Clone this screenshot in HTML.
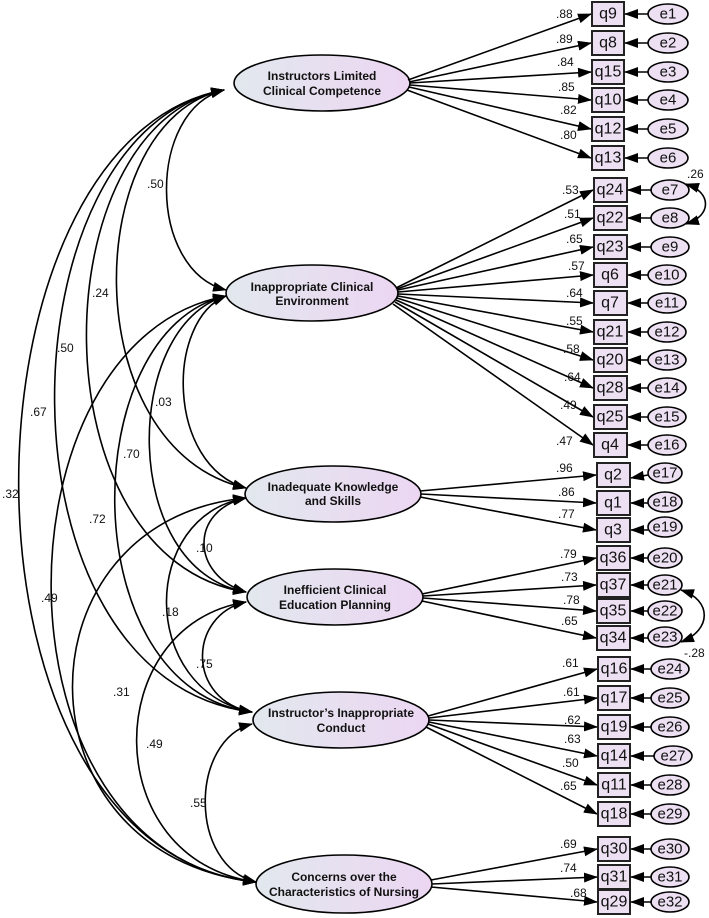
<!DOCTYPE html>
<html><head><meta charset="utf-8"><style>
html,body{margin:0;padding:0;background:#fff}
svg{display:block}
text{font-family:"Liberation Sans",Arial,sans-serif;fill:#111}
.q{font-size:16px;text-anchor:middle;dominant-baseline:central}
.e{font-size:15px;text-anchor:middle;dominant-baseline:central}
.l{font-size:12px}
.n{font-size:12px;font-weight:bold;text-anchor:middle}
.ln{stroke:#000;stroke-width:1.6;fill:none}
.bx{fill:#ece0f2;stroke:#222;stroke-width:2}
.er{fill:#ece0f2;stroke:#000;stroke-width:1.6}
.lv{fill:url(#g);stroke:#000;stroke-width:1.6}
</style></head><body>
<svg width="709" height="918" viewBox="0 0 709 918" xmlns="http://www.w3.org/2000/svg">
<defs>
<linearGradient id="g" x1="0" x2="1" y1="0" y2="0"><stop offset="0" stop-color="#e2e8ee"/><stop offset="1" stop-color="#ecd6f2"/></linearGradient>
<marker id="a" markerWidth="14" markerHeight="10" refX="13" refY="5" orient="auto-start-reverse" markerUnits="userSpaceOnUse"><path d="M0,0 L14,5 L0,10 z" fill="#000"/></marker>
</defs>

<!-- covariance arcs -->
<g class="ln" marker-start="url(#a)" marker-end="url(#a)">
<path d="M224,90 C147,110 147,270 226,290"/>
<path d="M224,90 C80,120 74,450 246,488"/>
<path d="M224,90 C40,125 34,560 246,592"/>
<path d="M224,90 C0,130 -13,680 252,712"/>
<path d="M224,90 C-50,140 -60,850 256,882"/>
<path d="M226,296 C166,320 166,465 246,488"/>
<path d="M226,296 C122,325 119,570 246,592"/>
<path d="M226,296 C75,330 72,690 252,712"/>
<path d="M226,296 C-10,340 -14,855 256,882"/>
<path d="M246,498 C190,510 190,575 246,592"/>
<path d="M246,498 C140,515 138,690 252,712"/>
<path d="M246,498 C15,520 11,855 256,882"/>
<path d="M246,602 C188,615 186,700 252,712"/>
<path d="M246,602 C100,625 97,860 256,882"/>
<path d="M252,724 C190,740 188,865 256,882"/>
</g>
<g class="l">
<text x="147" y="188">.50</text><text x="92" y="297">.24</text><text x="57" y="352">.50</text>
<text x="30" y="416">.67</text><text x="2" y="498">.32</text><text x="155" y="406">.03</text>
<text x="123" y="458">.70</text><text x="89" y="523">.72</text>
<text x="41" y="602">.49</text><text x="196" y="552">.10</text><text x="162" y="616">.18</text>
<text x="113" y="696">.31</text><text x="196" y="668">.75</text><text x="146" y="748">.49</text>
<text x="190" y="807">.55</text><text x="687" y="178">.26</text><text x="684" y="657">-.28</text>
</g>

<!-- latent variables -->
<ellipse class="lv" cx="322" cy="83" rx="88" ry="28"/>
<text class="n" x="322" y="80">Instructors Limited</text><text class="n" x="322" y="95">Clinical Competence</text>
<ellipse class="lv" cx="312" cy="293" rx="86" ry="28"/>
<text class="n" x="312" y="291">Inappropriate Clinical</text><text class="n" x="312" y="305">Environment</text>
<ellipse class="lv" cx="333" cy="494" rx="88" ry="28"/>
<text class="n" x="333" y="491">Inadequate Knowledge</text><text class="n" x="333" y="505">and Skills</text>
<ellipse class="lv" cx="335" cy="597" rx="88" ry="28"/>
<text class="n" x="335" y="594">Inefficient Clinical</text><text class="n" x="335" y="609">Education Planning</text>
<ellipse class="lv" cx="341" cy="720" rx="88" ry="28"/>
<text class="n" x="341" y="717">Instructor’s Inappropriate</text><text class="n" x="341" y="732">Conduct</text>
<ellipse class="lv" cx="344" cy="884" rx="88" ry="29"/>
<text class="n" x="344" y="881">Concerns over the</text><text class="n" x="344" y="896">Characteristics of Nursing</text>

<!-- loadings -->
<g class="ln" marker-end="url(#a)">
<path d="M408,80 L591,14"/><path d="M409,82 L591,43"/><path d="M410,83 L591,72"/><path d="M410,85 L591,100"/><path d="M409,87 L591,129"/><path d="M407,90 L591,158"/>
<path d="M396,288 L593,190"/><path d="M397,289 L593,218"/><path d="M398,290 L593,247"/><path d="M398,292 L593,275"/><path d="M398,294 L593,303"/><path d="M398,296 L593,332"/><path d="M397,298 L593,360"/><path d="M396,300 L593,388"/><path d="M395,302 L593,417"/><path d="M393,304 L593,445"/>
<path d="M420,491 L596,475"/><path d="M421,494 L596,503"/><path d="M420,497 L596,530"/>
<path d="M422,594 L596,558"/><path d="M423,596 L596,585"/><path d="M423,598 L596,611"/><path d="M422,601 L596,638"/>
<path d="M428,716 L597,669"/><path d="M429,718 L597,698"/><path d="M429,720 L597,727"/><path d="M429,722 L597,756"/><path d="M428,724 L597,785"/><path d="M426,727 L597,814"/>
<path d="M431,880 L597,849"/><path d="M432,884 L597,877"/><path d="M431,887 L597,902"/>
</g>
<g class="l">
<text x="556" y="18">.88</text><text x="556" y="43">.89</text><text x="557" y="66">.84</text><text x="558" y="91">.85</text><text x="560" y="114">.82</text><text x="560" y="139">.80</text>
<text x="562" y="194">.53</text><text x="564" y="218">.51</text><text x="566" y="243">.65</text><text x="568" y="270">.57</text><text x="566" y="297">.64</text><text x="566" y="325">.55</text><text x="563" y="353">.58</text><text x="564" y="381">.64</text><text x="560" y="409">.49</text><text x="556" y="445">.47</text>
<text x="556" y="472">.96</text><text x="558" y="496">.86</text><text x="558" y="518">.77</text>
<text x="560" y="558">.79</text><text x="561" y="581">.73</text><text x="563" y="604">.78</text><text x="561" y="625">.65</text>
<text x="562" y="667">.61</text><text x="563" y="696">.61</text><text x="564" y="724">.62</text><text x="564" y="743">.63</text><text x="562" y="767">.50</text><text x="560" y="790">.65</text>
<text x="560" y="848">.69</text><text x="560" y="872">.74</text><text x="570" y="897">.68</text>
</g>

<!-- boxes -->
<g>
<rect class="bx" x="592" y="2" width="32" height="24"/><text class="q" x="608" y="14">q9</text>
<rect class="bx" x="592" y="31" width="32" height="24"/><text class="q" x="608" y="43">q8</text>
<rect class="bx" x="592" y="60" width="32" height="24"/><text class="q" x="608" y="72">q15</text>
<rect class="bx" x="592" y="88" width="32" height="24"/><text class="q" x="608" y="100">q10</text>
<rect class="bx" x="592" y="117" width="32" height="24"/><text class="q" x="608" y="129">q12</text>
<rect class="bx" x="592" y="146" width="32" height="24"/><text class="q" x="608" y="158">q13</text>
<rect class="bx" x="594" y="178" width="33" height="24"/><text class="q" x="610" y="190">q24</text>
<rect class="bx" x="594" y="206" width="33" height="24"/><text class="q" x="610" y="218">q22</text>
<rect class="bx" x="594" y="235" width="33" height="24"/><text class="q" x="610" y="247">q23</text>
<rect class="bx" x="594" y="263" width="33" height="24"/><text class="q" x="610" y="275">q6</text>
<rect class="bx" x="594" y="291" width="33" height="24"/><text class="q" x="610" y="303">q7</text>
<rect class="bx" x="594" y="320" width="33" height="24"/><text class="q" x="610" y="332">q21</text>
<rect class="bx" x="594" y="348" width="33" height="24"/><text class="q" x="610" y="360">q20</text>
<rect class="bx" x="594" y="376" width="33" height="24"/><text class="q" x="610" y="388">q28</text>
<rect class="bx" x="594" y="405" width="33" height="24"/><text class="q" x="610" y="417">q25</text>
<rect class="bx" x="594" y="433" width="33" height="24"/><text class="q" x="610" y="445">q4</text>
<rect class="bx" x="597" y="463" width="33" height="24"/><text class="q" x="613" y="475">q2</text>
<rect class="bx" x="597" y="491" width="33" height="24"/><text class="q" x="613" y="503">q1</text>
<rect class="bx" x="597" y="518" width="33" height="24"/><text class="q" x="613" y="530">q3</text>
<rect class="bx" x="597" y="546" width="33" height="24"/><text class="q" x="613" y="558">q36</text>
<rect class="bx" x="597" y="573" width="33" height="24"/><text class="q" x="613" y="585">q37</text>
<rect class="bx" x="597" y="599" width="33" height="24"/><text class="q" x="613" y="611">q35</text>
<rect class="bx" x="597" y="626" width="33" height="24"/><text class="q" x="613" y="638">q34</text>
<rect class="bx" x="598" y="657" width="32" height="24"/><text class="q" x="614" y="669">q16</text>
<rect class="bx" x="598" y="686" width="32" height="24"/><text class="q" x="614" y="698">q17</text>
<rect class="bx" x="598" y="715" width="32" height="24"/><text class="q" x="614" y="727">q19</text>
<rect class="bx" x="598" y="744" width="32" height="24"/><text class="q" x="614" y="756">q14</text>
<rect class="bx" x="598" y="773" width="32" height="24"/><text class="q" x="614" y="785">q11</text>
<rect class="bx" x="598" y="802" width="32" height="24"/><text class="q" x="614" y="814">q18</text>
<rect class="bx" x="598" y="837" width="32" height="24"/><text class="q" x="614" y="849">q30</text>
<rect class="bx" x="598" y="865" width="32" height="24"/><text class="q" x="614" y="877">q31</text>
<rect class="bx" x="598" y="890" width="32" height="24"/><text class="q" x="614" y="902">q29</text>
</g>

<!-- error arrows -->
<g class="ln" marker-end="url(#a)">
<path d="M648,14 L625,14"/><path d="M648,43 L625,43"/><path d="M648,72 L625,72"/><path d="M648,100 L625,100"/><path d="M648,129 L625,129"/><path d="M648,158 L625,158"/>
<path d="M651,190 L628,190"/><path d="M651,218 L628,218"/><path d="M651,247 L628,247"/><path d="M648,275 L628,275"/><path d="M648,303 L628,303"/><path d="M648,332 L628,332"/><path d="M648,360 L628,360"/><path d="M648,388 L628,388"/><path d="M648,417 L628,417"/><path d="M648,445 L628,445"/>
<path d="M648,475 L631,478"/><path d="M648,503 L631,503"/><path d="M648,530 L631,530"/><path d="M648,558 L631,558"/><path d="M648,585 L631,585"/><path d="M648,611 L631,611"/><path d="M648,638 L631,638"/>
<path d="M651,669 L631,669"/><path d="M651,698 L631,698"/><path d="M651,727 L631,727"/><path d="M654,756 L631,756"/><path d="M651,785 L631,785"/><path d="M651,814 L631,814"/>
<path d="M651,849 L631,849"/><path d="M651,877 L631,877"/><path d="M651,902 L631,902"/>
<path d="M686,184 C712,192 712,216 686,224" marker-start="url(#a)"/>
<path d="M681,590 C712,600 712,630 681,642" marker-start="url(#a)"/>
</g>

<!-- errors -->
<g>
<ellipse class="er" cx="668" cy="14" rx="20" ry="10"/><text class="e" x="668" y="14">e1</text>
<ellipse class="er" cx="668" cy="43" rx="20" ry="10"/><text class="e" x="668" y="43">e2</text>
<ellipse class="er" cx="668" cy="72" rx="20" ry="10"/><text class="e" x="668" y="72">e3</text>
<ellipse class="er" cx="668" cy="100" rx="20" ry="10"/><text class="e" x="668" y="100">e4</text>
<ellipse class="er" cx="668" cy="129" rx="20" ry="10"/><text class="e" x="668" y="129">e5</text>
<ellipse class="er" cx="668" cy="158" rx="20" ry="10"/><text class="e" x="668" y="158">e6</text>
<ellipse class="er" cx="670" cy="190" rx="19" ry="10"/><text class="e" x="670" y="190">e7</text>
<ellipse class="er" cx="670" cy="218" rx="19" ry="10"/><text class="e" x="670" y="218">e8</text>
<ellipse class="er" cx="670" cy="247" rx="19" ry="10"/><text class="e" x="670" y="247">e9</text>
<ellipse class="er" cx="667" cy="275" rx="19" ry="10"/><text class="e" x="667" y="275">e10</text>
<ellipse class="er" cx="667" cy="303" rx="19" ry="10"/><text class="e" x="667" y="303">e11</text>
<ellipse class="er" cx="667" cy="332" rx="19" ry="10"/><text class="e" x="667" y="332">e12</text>
<ellipse class="er" cx="667" cy="360" rx="19" ry="10"/><text class="e" x="667" y="360">e13</text>
<ellipse class="er" cx="667" cy="388" rx="19" ry="10"/><text class="e" x="667" y="388">e14</text>
<ellipse class="er" cx="667" cy="417" rx="19" ry="10"/><text class="e" x="667" y="417">e15</text>
<ellipse class="er" cx="667" cy="445" rx="19" ry="10"/><text class="e" x="667" y="445">e16</text>
<ellipse class="er" cx="665" cy="473" rx="17" ry="10"/><text class="e" x="665" y="473">e17</text>
<ellipse class="er" cx="665" cy="502" rx="17" ry="10"/><text class="e" x="665" y="502">e18</text>
<ellipse class="er" cx="665" cy="527" rx="17" ry="10"/><text class="e" x="665" y="527">e19</text>
<ellipse class="er" cx="665" cy="558" rx="17" ry="10"/><text class="e" x="665" y="558">e20</text>
<ellipse class="er" cx="665" cy="585" rx="17" ry="10"/><text class="e" x="665" y="585">e21</text>
<ellipse class="er" cx="665" cy="611" rx="17" ry="10"/><text class="e" x="665" y="611">e22</text>
<ellipse class="er" cx="665" cy="637" rx="17" ry="10"/><text class="e" x="665" y="637">e23</text>
<ellipse class="er" cx="670" cy="669" rx="19" ry="10"/><text class="e" x="670" y="669">e24</text>
<ellipse class="er" cx="670" cy="698" rx="19" ry="10"/><text class="e" x="670" y="698">e25</text>
<ellipse class="er" cx="670" cy="727" rx="19" ry="10"/><text class="e" x="670" y="727">e26</text>
<ellipse class="er" cx="673" cy="756" rx="19" ry="10"/><text class="e" x="673" y="756">e27</text>
<ellipse class="er" cx="670" cy="785" rx="19" ry="10"/><text class="e" x="670" y="785">e28</text>
<ellipse class="er" cx="670" cy="814" rx="19" ry="10"/><text class="e" x="670" y="814">e29</text>
<ellipse class="er" cx="670" cy="849" rx="19" ry="10"/><text class="e" x="670" y="849">e30</text>
<ellipse class="er" cx="670" cy="877" rx="19" ry="10"/><text class="e" x="670" y="877">e31</text>
<ellipse class="er" cx="670" cy="902" rx="19" ry="10"/><text class="e" x="670" y="902">e32</text>
</g>
</svg>
</body></html>
